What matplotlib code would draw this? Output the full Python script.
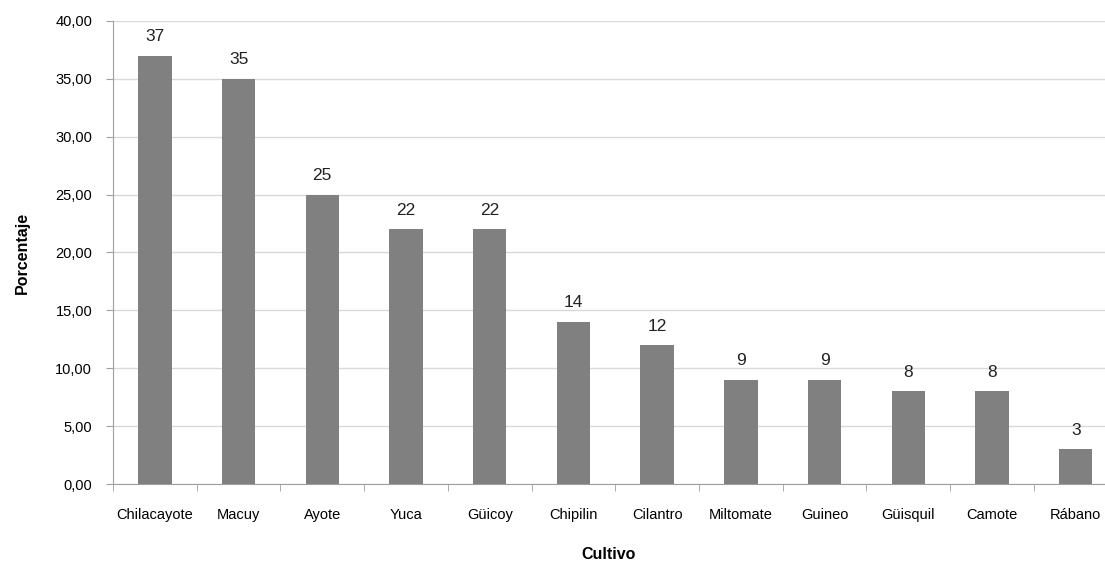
import matplotlib
matplotlib.use('Agg')
from matplotlib import pyplot as plt
import numpy as np

cultivos = ['Chilacayote', 'Macuy', 'Ayote', 'Yuca', 'Güicoy', 'Chipilin',
            'Cilantro', 'Miltomate', 'Guineo', 'Güisquil', 'Camote', 'Rábano']
porcentaje = [37, 35, 25, 22, 22, 14, 12, 9, 9, 8, 8, 3]
yticks = [0, 5, 10, 15, 20, 25, 30, 35, 40]

plt.rcParams['font.family'] = ['Liberation Sans', 'DejaVu Sans']

fig = plt.figure(figsize=(11.05, 5.64), dpi=100)
ax = fig.add_axes([113/1105, 1 - 484/564, 1 - 113/1105, (484 - 21)/564])

x = np.arange(len(cultivos))
ax.bar(x, porcentaje, width=0.4, color='#808080', zorder=3)
for xi, v in zip(x, porcentaje):
    ax.text(xi, v + 1.0, str(v), ha='center', va='bottom', fontsize=12.5, color='#222222')

ax.set_yticks(yticks)
ax.set_yticklabels(['%d,00' % t for t in yticks], fontsize=10.5)
ax.set_xticks(x)
ax.set_xticklabels(cultivos, fontsize=10.5)
ax.set_xticks(np.arange(-0.5, 11, 1), minor=True)
ax.set_ylim(0, 40)
ax.set_xlim(-0.5, 11.35)
ax.tick_params(axis='x', which='major', length=0, pad=17)
ax.tick_params(axis='x', which='minor', length=5, color='#a0a0a0', direction='out')
ax.tick_params(axis='y', length=5, color='#a0a0a0', pad=10)
ax.yaxis.grid(True, color='#d9d9d9', linewidth=1, zorder=0)

for s in ['top', 'right']:
    ax.spines[s].set_visible(False)
ax.spines['left'].set_color('#a0a0a0')
ax.spines['bottom'].set_color('#a0a0a0')

ax.set_ylabel('Porcentaje', fontsize=11.5, fontweight='bold', labelpad=18)
ax.set_xlabel('Cultivo', fontsize=11.5, fontweight='bold', labelpad=18)

fig.savefig('out.png', dpi=100)
